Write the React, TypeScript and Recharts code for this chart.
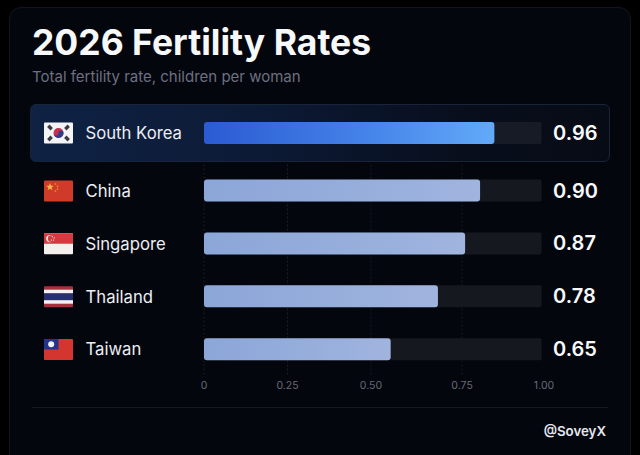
import React from 'react';
import {
  BarChart,
  Bar,
  XAxis,
  YAxis,
  CartesianGrid,
  LabelList,
} from 'recharts';

const FONT = 'Inter, "Noto Sans", sans-serif';

const countries = ['South Korea', 'China', 'Singapore', 'Thailand', 'Taiwan'];
// printed next to each bar
const rateLabels = ['0.96', '0.90', '0.87', '0.78', '0.65'];
// how far each bar actually reaches on the drawn axis (they fall short of the printed rates)
const barLengths = [0.854, 0.812, 0.768, 0.688, 0.549];
const trackLengths = [0.993, 0.993, 0.993, 0.993, 0.993];
// tick spots, slightly uneven there
const axisTicks = [0, 0.2456, 0.491, 0.759, 1];
const axisLabels = ['0', '0.25', '0.50', '0.75', '1.00'];
const gridValues = [0, 0.2456, 0.491, 0.759];

const rows = countries.map((country, i) => ({
  country,
  rate: rateLabels[i],
  length: barLengths[i],
  track: trackLengths[i],
}));
const topRow = rows.slice(0, 1);
const otherRows = rows.slice(1);

const Flag = ({ name }: { name: string }) => {
  if (name === 'South Korea') {
    return (
      <g>
        <rect width={29} height={21} rx={1} fill="#f4f4f6" />
        <circle cx={14.5} cy={10.5} r={5} fill="#c6304a" />
        <path d="M9.5 10.5a5 5 0 0 0 10 0a2.5 2.5 0 0 0-5 0a2.5 2.5 0 0 1-5 0z" fill="#2b3f8c" />
        {[[6, 5, 45], [23, 5, -45], [6, 16, -45], [23, 16, 45]].map(([x, y, r], i) => (
          <rect key={i} x={x - 2.4} y={y - 1.7} width={4.8} height={3.4} fill="#3a3c43" transform={`rotate(${r} ${x} ${y})`} />
        ))}
      </g>
    );
  }
  if (name === 'China') {
    return (
      <g>
        <rect width={29} height={21} rx={1} fill="#cf3b28" />
        <polygon points="6,2.5 7,5.2 9.8,5.2 7.6,7 8.4,9.8 6,8.1 3.6,9.8 4.4,7 2.2,5.2 5,5.2" fill="#f0b84a" />
        <circle cx={11.5} cy={3.5} r={0.8} fill="#e8a040" />
        <circle cx={13.5} cy={5.8} r={0.8} fill="#e8a040" />
        <circle cx={13.5} cy={8.5} r={0.8} fill="#e8a040" />
        <circle cx={11.5} cy={10.5} r={0.8} fill="#e8a040" />
      </g>
    );
  }
  if (name === 'Singapore') {
    return (
      <g>
        <rect width={29} height={21} rx={1} fill="#f3f0ee" />
        <path d="M1 0h27a1 1 0 0 1 1 1v9.5H0V1a1 1 0 0 1 1-1z" fill="#d8383f" />
        <circle cx={5.8} cy={5.3} r={3.6} fill="#f3f0ee" />
        <circle cx={7.2} cy={5.3} r={3.4} fill="#d8383f" />
        <circle cx={8.3} cy={3.4} r={0.6} fill="#f3f0ee" />
        <circle cx={10.2} cy={4.6} r={0.6} fill="#f3f0ee" />
        <circle cx={9.6} cy={6.8} r={0.6} fill="#f3f0ee" />
        <circle cx={7.4} cy={6.8} r={0.6} fill="#f3f0ee" />
      </g>
    );
  }
  if (name === 'Thailand') {
    return (
      <g>
        <rect width={29} height={21} rx={1} fill="#a6303c" />
        <rect y={3.5} width={29} height={14} fill="#f3f1f2" />
        <rect y={7} width={29} height={7} fill="#27306e" />
      </g>
    );
  }
  return (
    <g>
      <rect width={29} height={21} rx={1} fill="#d4352f" />
      <path d="M1 0h13.5v10.5H0V1a1 1 0 0 1 1-1z" fill="#22348c" />
      <circle cx={7.2} cy={5.2} r={3} fill="#f2f3f8" />
    </g>
  );
};

const CountryTick = ({ y, payload }: any) => (
  <g>
    <g transform={`translate(44 ${y - 10.5})`}>
      <Flag name={payload.value} />
    </g>
    <text x={85.5} y={y} dy="0.35em" fill="#eceef4" fontSize={16.7} fontFamily={FONT}>
      {payload.value}
    </text>
  </g>
);

const chartMargin = { top: 0, right: 96, bottom: 0, left: 0 };
const rateLabelStyle = { fill: '#f8f9fb', fontSize: 20, fontWeight: 600, fontFamily: FONT };

const App = () => (
  <div style={{ position: 'fixed', left: 0, top: 0, width: 640, height: 455, background: '#000', overflow: 'hidden', fontFamily: FONT }}>
    <div
      style={{
        position: 'absolute',
        left: 9,
        top: 7,
        width: 622,
        height: 470,
        boxSizing: 'border-box',
        background: '#04060e',
        border: '1px solid #12151c',
        borderRadius: 12,
      }}
    />
    <div style={{ position: 'absolute', left: 32, top: 21, fontSize: 35.5, lineHeight: '44px', fontWeight: 700, color: '#f7f8fa', whiteSpace: 'nowrap' }}>
      2026 Fertility Rates
    </div>
    <div style={{ position: 'absolute', left: 32, top: 67, fontSize: 15, lineHeight: '20px', color: '#6c7080', whiteSpace: 'nowrap' }}>
      Total fertility rate, children per woman
    </div>

    <div
      style={{
        position: 'absolute',
        left: 30,
        top: 104,
        width: 580,
        height: 58,
        boxSizing: 'border-box',
        borderRadius: 6,
        border: '1px solid #1a2438',
        background: 'linear-gradient(90deg, #0f2244 0%, #0c1a35 40%, #080e1c 75%, #070b15 100%)',
      }}
    />
    <div style={{ position: 'absolute', left: 0, top: 104 }}>
      <BarChart width={640} height={58} layout="vertical" data={topRow} margin={chartMargin} barGap={-22}>
        <defs>
          <linearGradient id="topFill" x1="0" y1="0" x2="1" y2="0">
            <stop offset="0%" stopColor="#2b5bd2" />
            <stop offset="55%" stopColor="#4482e8" />
            <stop offset="100%" stopColor="#62aaf8" />
          </linearGradient>
        </defs>
        <XAxis type="number" domain={[0, 1]} hide />
        <YAxis type="category" dataKey="country" width={204} axisLine={false} tickLine={false} tick={CountryTick} />
        <Bar dataKey="track" barSize={22} fill="#171b25" radius={2} isAnimationActive={false}>
          <LabelList dataKey="rate" position="right" offset={11.5} style={rateLabelStyle} />
        </Bar>
        <Bar dataKey="length" barSize={22} fill="url(#topFill)" radius={3} isAnimationActive={false} />
      </BarChart>
    </div>

    <div style={{ position: 'absolute', left: 0, top: 164 }}>
      <BarChart width={640} height={242} layout="vertical" data={otherRows} margin={{ ...chartMargin, top: 0.5 }} barGap={-22}>
        <defs>
          <linearGradient id="restFill" x1="0" y1="0" x2="1" y2="0">
            <stop offset="0%" stopColor="#8ba6d8" />
            <stop offset="100%" stopColor="#a0b4de" />
          </linearGradient>
        </defs>
        <CartesianGrid horizontal={false} verticalValues={gridValues} stroke="#181c26" strokeDasharray="2 2" />
        <XAxis
          type="number"
          domain={[0, 1]}
          ticks={axisTicks}
          interval={0}
          height={30}
          axisLine={false}
          tickLine={false}
          tickMargin={0}
          tickFormatter={(_v: number, i: number) => axisLabels[i]}
          tick={{ fill: '#666a76', fontSize: 10.5, fontFamily: FONT }}
        />
        <YAxis type="category" dataKey="country" width={204} axisLine={false} tickLine={false} tick={CountryTick} />
        <Bar dataKey="track" barSize={22} fill="#15181f" radius={2} isAnimationActive={false}>
          <LabelList dataKey="rate" position="right" offset={11.5} style={rateLabelStyle} />
        </Bar>
        <Bar dataKey="length" barSize={22} fill="url(#restFill)" radius={3} isAnimationActive={false} />
      </BarChart>
    </div>

    <div style={{ position: 'absolute', left: 32, top: 407, width: 576, height: 1, background: '#15181f' }} />
    <div style={{ position: 'absolute', right: 34, top: 421, fontSize: 13.3, lineHeight: '20px', fontWeight: 600, color: '#e6e8ee' }}>
      @SoveyX
    </div>
  </div>
);

export default App;
